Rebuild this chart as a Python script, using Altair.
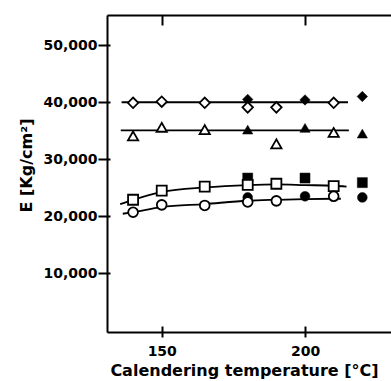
import altair as alt
import pandas as pd

# ---- data ----
series_names = ["Diamonds", "Triangles", "Squares", "Circles"]
shape_names = ["diamond", "triangle-up", "square", "circle"]

diamond_open_t = [140, 150, 165, 180, 190, 210]
diamond_open_v = [39900, 40100, 39900, 39100, 39100, 39900]
diamond_fill_t = [180, 200, 220]
diamond_fill_v = [40500, 40400, 41000]

triangle_open_t = [140, 150, 165, 190, 210]
triangle_open_v = [34100, 35600, 35200, 32700, 34700]
triangle_fill_t = [180, 200, 220]
triangle_fill_v = [35200, 35500, 34500]

square_open_t = [140, 150, 165, 180, 190, 210]
square_open_v = [22900, 24500, 25200, 25500, 25700, 25300]
square_fill_t = [180, 200, 220]
square_fill_v = [26700, 26700, 25900]

circle_open_t = [140, 150, 165, 180, 190, 210]
circle_open_v = [20700, 22000, 21900, 22500, 22700, 23500]
circle_fill_t = [180, 200, 220]
circle_fill_v = [23300, 23500, 23300]

# fitted curves as drawn
line_diamond_t = [136, 215]
line_diamond_v = [40000, 40000]
line_triangle_t = [135.7, 215.3]
line_triangle_v = [35050, 35050]
line_square_t = [135.5, 140, 150, 165, 180, 190, 200, 210, 214.5]
line_square_v = [22140, 22890, 24240, 25050, 25470, 25580, 25470, 25350, 25180]
line_circle_t = [136.4, 140, 150, 165, 180, 190, 200, 210, 212.5]
line_circle_v = [20440, 20730, 21610, 22140, 22720, 22890, 23020, 23070, 23070]

x_ticks = [150, 200]
y_ticks = [10000, 20000, 30000, 40000, 50000]


def table(groups):
    rows = []
    for name, ts, vs in groups:
        for t, v in zip(ts, vs):
            rows.append({"series": name, "t": t, "v": v})
    return pd.DataFrame(rows)


open_df = table([
    ("Diamonds", diamond_open_t, diamond_open_v),
    ("Triangles", triangle_open_t, triangle_open_v),
    ("Squares", square_open_t, square_open_v),
    ("Circles", circle_open_t, circle_open_v),
])
fill_df = table([
    ("Diamonds", diamond_fill_t, diamond_fill_v),
    ("Triangles", triangle_fill_t, triangle_fill_v),
    ("Squares", square_fill_t, square_fill_v),
    ("Circles", circle_fill_t, circle_fill_v),
])
line_df = table([
    ("Diamonds", line_diamond_t, line_diamond_v),
    ("Triangles", line_triangle_t, line_triangle_v),
    ("Squares", line_square_t, line_square_v),
    ("Circles", line_circle_t, line_circle_v),
])

W, H = 284, 317
xscale = alt.Scale(domain=[130.9, 230], nice=False, zero=False)
yscale = alt.Scale(domain=[-300, 55300], nice=False, zero=False)
FONT = "DejaVu Sans"

main_x_axis = alt.Axis(
    values=x_ticks, format="d", grid=False,
    labelFont=FONT, labelFontSize=14, labelFontWeight="bold", labelColor="black",
    labelPadding=7, tickSize=5, tickWidth=2, tickColor="black",
    domainColor="black", domainWidth=2,
    title="Calendering temperature  [°C]", titleFont=FONT, titleFontSize=16,
    titleFontWeight="bold", titleColor="black",
    titleX=137, titleY=38, titleBaseline="middle", titleAlign="center",
)
main_y_axis = alt.Axis(
    values=y_ticks, format=",d", grid=False,
    labelFont=FONT, labelFontSize=14, labelFontWeight="bold", labelColor="black",
    labelPadding=1, tickSize=9, tickWidth=2, tickColor="black",
    domainColor="black", domainWidth=2,
    title="E [Kg/cm²]", titleFont=FONT, titleFontSize=16, titleFontWeight="bold",
    titleColor="black", titleX=-81, titleY=150, titleAngle=270,
    titleBaseline="middle", titleAlign="center",
)

lines = alt.Chart(line_df).mark_line(
    color="black", strokeWidth=1.8, interpolate="monotone"
).encode(
    x=alt.X("t:Q", scale=xscale, axis=main_x_axis),
    y=alt.Y("v:Q", scale=yscale, axis=main_y_axis),
    detail="series:N",
)

# top border with inward ticks
top_axis = alt.Axis(
    orient="bottom", offset=-H, values=x_ticks, labels=False, grid=False,
    tickSize=10, tickWidth=2, tickColor="black",
    domain=True, domainColor="black", domainWidth=2, title=None,
)
filled = alt.Chart(fill_df).mark_point(
    filled=True, fill="black", stroke="black", strokeWidth=0.5, opacity=1
).encode(
    x=alt.X("t:Q", scale=xscale, axis=top_axis),
    y=alt.Y("v:Q", scale=yscale, axis=None),
    shape=alt.Shape("series:N", scale=alt.Scale(domain=series_names, range=shape_names), legend=None),
    size=alt.Size("series:N", scale=alt.Scale(domain=series_names, range=[110, 95, 80, 70]), legend=None),
)

# inward ticks at bottom and left
inner_x_axis = alt.Axis(
    orient="top", offset=-H, values=x_ticks, labels=False, grid=False,
    tickSize=6, tickWidth=2, tickColor="black", domain=False, title=None,
)
inner_y_axis = alt.Axis(
    orient="right", offset=-W, values=y_ticks, labels=False, grid=False,
    tickSize=3, tickWidth=2, tickColor="black", domain=False, title=None,
)
opened = alt.Chart(open_df).mark_point(
    filled=True, fill="white", stroke="black", strokeWidth=1.8, opacity=1
).encode(
    x=alt.X("t:Q", scale=xscale, axis=inner_x_axis),
    y=alt.Y("v:Q", scale=yscale, axis=inner_y_axis),
    shape=alt.Shape("series:N", scale=alt.Scale(domain=series_names, range=shape_names), legend=None),
    size=alt.Size("series:N", scale=alt.Scale(domain=series_names, range=[64, 60, 40, 40]), legend=None),
)

chart = alt.layer(lines, filled, opened).resolve_axis(
    x="independent", y="independent"
).properties(
    width=W, height=H,
    autosize=alt.AutoSizeParams(type="none"),
    padding={"left": 107, "top": 15, "right": 0, "bottom": 49},
    background="white",
).configure_view(stroke=None).configure(font=FONT)

chart.save("out.html", embed_options={"renderer": "svg", "actions": False})
